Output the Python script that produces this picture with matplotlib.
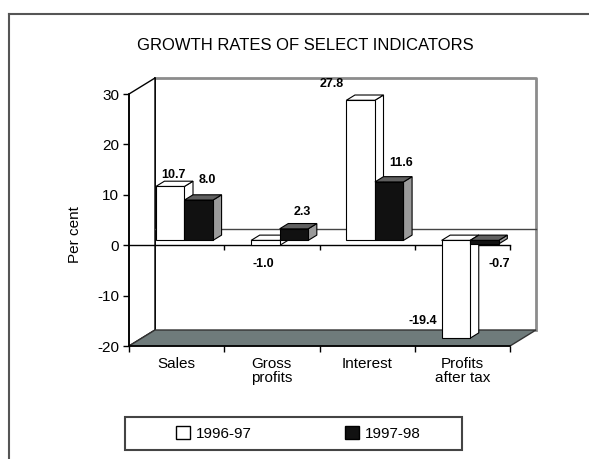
import matplotlib
matplotlib.use("Agg")
import matplotlib.pyplot as plt
from matplotlib.patches import Polygon, Rectangle, Patch
from matplotlib.lines import Line2D

# data
categories = ["Sales", "Gross\nprofits", "Interest", "Profits\nafter tax"]
series_names = ["1996-97", "1997-98"]
growth_9697 = [10.7, -1.0, 27.8, -19.4]
growth_9798 = [8.0, 2.3, 11.6, -0.7]
y_ticks = [-20, -10, 0, 10, 20, 30]

plt.rcParams['font.family'] = ['Liberation Sans', 'DejaVu Sans']
plt.rcParams['axes.unicode_minus'] = False

W, H = 589, 459
fig = plt.figure(figsize=(W / 100, H / 100), dpi=100)

# front plane of the 3-D box
ax_l, ax_b, ax_w, ax_h = 129, 113, 381, 252
ax = fig.add_axes([ax_l / W, ax_b / H, ax_w / W, ax_h / H])
n = len(categories)
ymin, ymax = y_ticks[0], y_ticks[-1]
ax.set_xlim(0, n)
ax.set_ylim(ymin, ymax)

# depth of the box (26 px right, 16 px up), turned into data units
DX = 26 / (ax_w / n)
DY = 16 / (ax_h / (ymax - ymin))

# back wall
back = Polygon([(DX, ymin + DY), (n + DX, ymin + DY), (n + DX, ymax + DY), (DX, ymax + DY)],
               closed=True, fc='white', ec='none', clip_on=False, zorder=0)
ax.add_patch(back)
ax.plot([DX, n + DX, n + DX], [ymax + DY, ymax + DY, ymin + DY], color='#8c8c8c', lw=2,
        clip_on=False, zorder=0.5)
ax.plot([DX, DX], [ymin + DY, ymax + DY], color='black', lw=1.2, clip_on=False, zorder=0.6)

# left wall
left = Polygon([(0, ymin), (DX, ymin + DY), (DX, ymax + DY), (0, ymax)], closed=True,
               fc='white', ec='black', lw=1, clip_on=False, zorder=0.7)
ax.add_patch(left)

# floor
floor = Polygon([(0, ymin), (n, ymin), (n + DX, ymin + DY), (DX, ymin + DY)], closed=True,
                fc='#6f7b7b', ec='#333333', lw=1, clip_on=False, zorder=1)
ax.add_patch(floor)

# zero lines, back wall and front
ax.plot([DX, n + DX], [DY, DY], color='#444444', lw=1, clip_on=False, zorder=0.8)
ax.plot([0, n], [0, 0], color='black', lw=1, clip_on=False, zorder=2)
ax.vlines(range(1, n + 1), -0.9, 0, color='black', lw=1, clip_on=False, zorder=2)

# bars
bw = 0.3
f0, fd = 0.3, 0.33
b0 = f0 * DY
ddx, ddy = fd * DX, fd * DY
series = [growth_9697, growth_9798]
styles = [dict(front='white', top='white', side='white', edge='black'),
          dict(front='#111111', top='#606060', side='#9a9a9a', edge='black')]
# label nudges in pixels (Excel put a few labels off-centre)
nudges = [[(-1, -3), (-2, -3), (-33, 2), (-33, 33)],
          [(4, 6), (4, 3), (8, 5), (15, -4)]]

z = 3
for i in range(n):
    for j, vals in enumerate(series):
        st = styles[j]
        v = vals[i]
        x0 = i + 0.2 + j * bw + f0 * DX
        lo, hi = min(0, v) + b0, max(0, v) + b0
        side = Polygon([(x0 + bw, lo), (x0 + bw + ddx, lo + ddy), (x0 + bw + ddx, hi + ddy), (x0 + bw, hi)],
                       closed=True, fc=st['side'], ec=st['edge'], lw=0.8, clip_on=False, zorder=z)
        top = Polygon([(x0, hi), (x0 + bw, hi), (x0 + bw + ddx, hi + ddy), (x0 + ddx, hi + ddy)],
                      closed=True, fc=st['top'], ec=st['edge'], lw=0.8, clip_on=False, zorder=z)
        ax.add_patch(side)
        ax.add_patch(top)
        ax.bar(x0, v, width=bw, bottom=b0, align='edge', color=st['front'], edgecolor=st['edge'],
               linewidth=0.8, clip_on=False, zorder=z + 0.1)
        z += 0.2

        nx, ny = nudges[j][i]
        if v >= 0:
            ax.annotate(f"{v:.1f}", xy=(x0 + bw / 2 + ddx / 2, hi + ddy), xytext=(nx, 3 + ny),
                        textcoords='offset pixels', ha='center', va='bottom',
                        fontsize=9, fontweight='bold', zorder=10)
        else:
            ax.annotate(f"{v:.1f}", xy=(x0 + bw / 2, lo), xytext=(nx, -10 + ny),
                        textcoords='offset pixels', ha='center', va='top',
                        fontsize=9, fontweight='bold', zorder=10)

# axes
for s in ['top', 'right']:
    ax.spines[s].set_visible(False)
for s in ['left', 'bottom']:
    ax.spines[s].set_linewidth(1.2)
ax.set_yticks(y_ticks)
ax.set_yticklabels([str(t) for t in y_ticks], fontsize=11)
ax.tick_params(axis='y', direction='out', length=4, width=1, pad=3)
ax.set_xticks([i + 0.5 for i in range(n)])
ax.set_xticklabels(categories, fontsize=11, linespacing=1.0)
ax.set_xticks(range(n + 1), minor=True)
ax.tick_params(axis='x', which='major', length=0, pad=8)
ax.tick_params(axis='x', which='minor', direction='out', length=4, width=1)

fig.text(75 / W, 1 - 235 / H, "Per cent", rotation=90, ha='center', va='center', fontsize=11)
fig.text(305 / W, 1 - 45 / H, "GROWTH RATES OF SELECT INDICATORS", ha='center', va='center',
         fontsize=12)

# legend
frame = Rectangle((125 / W, 1 - 450 / H), 337 / W, 33 / H, transform=fig.transFigure,
                  fc='white', ec='#444444', lw=1.5)
fig.patches.append(frame)
handles = [Patch(fc='white', ec='black', lw=1), Patch(fc='#111111', ec='black', lw=1)]
fig.legend(handles, series_names, loc='lower left', mode='expand', ncol=2, frameon=False,
           bbox_to_anchor=(167 / W, 1 - 450 / H, 263 / W, 33 / H), borderpad=0.6,
           borderaxespad=0, handlelength=0.9, handleheight=0.9, handletextpad=0.4, fontsize=11)

# outer border
fig.add_artist(Line2D([9 / W, 1], [1 - 14 / H, 1 - 14 / H], color='#555555', lw=1.5))
fig.add_artist(Line2D([9 / W, 9 / W], [1 - 14 / H, 0], color='#555555', lw=1.5))

fig.savefig("out.png", dpi=100)
